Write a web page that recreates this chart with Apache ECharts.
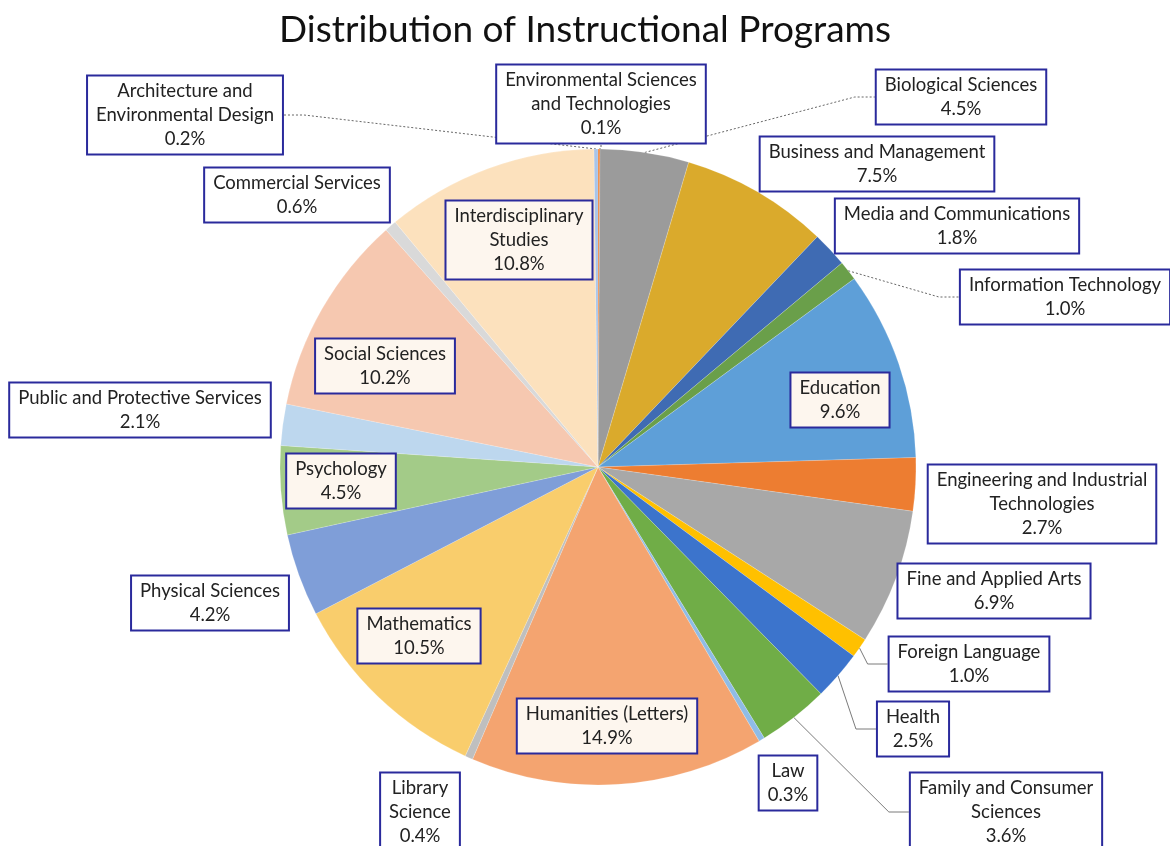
<!DOCTYPE html>
<html>
<head>
<meta charset="utf-8">
<title>Distribution of Instructional Programs</title>
<script src="https://cdn.jsdelivr.net/npm/echarts@6/dist/echarts.min.js"></script>
<style>
  html, body { margin: 0; padding: 0; background: #fff; }
  #chart { width: 1170px; height: 846px; }
</style>
</head>
<body>
<div id="chart"></div>
<script>
// data (clockwise from 12 o'clock)
const categories = [
  'Environmental Sciences\nand Technologies',
  'Biological Sciences',
  'Business and Management',
  'Media and Communications',
  'Information Technology',
  'Education',
  'Engineering and Industrial\nTechnologies',
  'Fine and Applied Arts',
  'Foreign Language',
  'Health',
  'Family and Consumer\nSciences',
  'Law',
  'Humanities (Letters)',
  'Library\nScience',
  'Mathematics',
  'Physical Sciences',
  'Psychology',
  'Public and Protective Services',
  'Social Sciences',
  'Commercial Services',
  'Interdisciplinary\nStudies',
  'Architecture and\nEnvironmental Design'
]
const shares = [
  0.1, 4.5, 7.5, 1.8, 1.0, 9.6, 2.7, 6.9, 1.0, 2.5, 3.6,
  0.3, 14.9, 0.4, 10.5, 4.2, 4.5, 2.1, 10.2, 0.6, 10.8, 0.2
]

// styles, same order as categories
const sliceColors = [
  '#ED7D31', '#9B9B9B', '#DAAA2C', '#3F6BB3', '#6A9F4A', '#5E9FD8',
  '#ED7D31', '#A8A8A8', '#FFC000', '#3C74CC', '#70AD47',
  '#8FBCE6', '#F4A470', '#BFBFBF', '#F9CD6C', '#7F9ED8', '#A3CB88',
  '#BDD7EE', '#F6C8B0', '#D9D9D9', '#FCE1BD', '#A9C4E8'
]
// label box centres (px) and which slices get a leader line
const labelSpots = [
  [601, 104], [961, 97], [877, 164], [957, 226], [1065, 297], [840, 400],
  [1042, 504], [994, 591], [969, 664], [913, 729], [1006, 812],
  [788, 783], [607, 726], [420, 812], [419, 636], [210, 603], [341, 481],
  [140, 410], [385, 366], [297, 195], [519, 240], [185, 115]
]
const inside = [5, 12, 14, 16, 18, 20]
const dottedLines = [0, 1, 4, 21]
const solidLines = [8, 9, 10]

const chart = echarts.init(document.getElementById('chart'))

const seriesData = categories.map((name, i) => {
  const hasLine = dottedLines.includes(i) || solidLines.includes(i)
  return {
    name,
    value: shares[i],
    itemStyle: { color: sliceColors[i] },
    label: {
      backgroundColor: inside.includes(i) ? '#FDF6EE' : '#FFFFFF',
    },
    labelLine: {
      show: hasLine,
      lineStyle: {
        type: dottedLines.includes(i) ? [2, 2] : 'solid',
        color: dottedLines.includes(i) ? '#666' : '#7a7a7a',
        width: 1,
      },
    },
  }
})

chart.setOption({
  animation: false,
  title: {
    text: 'Distribution of Instructional Programs',
    left: 'center',
    top: 7,
    textStyle: {
      fontFamily: 'Lato',
      fontSize: 37,
      fontWeight: 'normal',
      color: '#111',
    },
  },
  series: [
    {
      type: 'pie',
      center: [598, 467],
      radius: 318,
      startAngle: 90,
      clockwise: true,
      avoidLabelOverlap: false,
      itemStyle: {
        borderColor: 'rgba(255,255,255,0.35)',
        borderWidth: 0.5,
      },
      label: {
        show: true,
        position: 'outside',
        formatter: (p) => p.name + '\n' + p.value.toFixed(1) + '%',
        fontFamily: 'Lato',
        fontSize: 18.5,
        lineHeight: 24,
        color: '#222',
        align: 'center',
        padding: [3, 8, 2, 8],
        borderColor: '#2A2A9C',
        borderWidth: 2,
      },
      labelLine: {
        length: 20,
        length2: 20,
      },
      labelLayout: (params) => {
        const spot = labelSpots[params.dataIndex]
        return {
          x: spot[0],
          y: spot[1],
          align: 'center',
          verticalAlign: 'middle',
        }
      },
      data: seriesData,
    },
  ],
})
</script>
</body>
</html>
